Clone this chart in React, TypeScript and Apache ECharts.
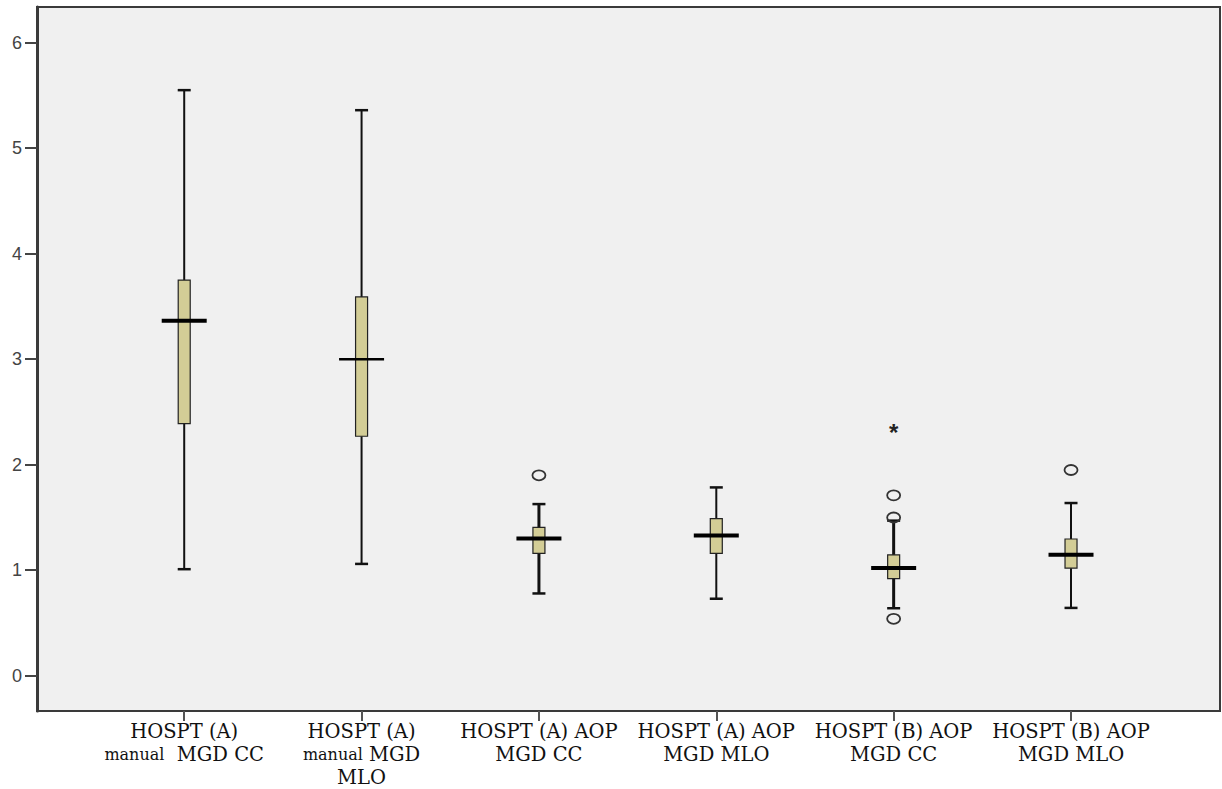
import React, { useEffect, useRef } from "react";
import * as echarts from "echarts";

const categories = [
  "HOSPT (A)\n{s|manual}  MGD CC",
  "HOSPT (A)\n{s|manual} MGD\nMLO",
  "HOSPT (A) AOP\nMGD CC",
  "HOSPT (A) AOP\nMGD MLO",
  "HOSPT (B) AOP\nMGD CC",
  "HOSPT (B) AOP\nMGD MLO",
];
const lowWhisker = [1.01, 1.06, 0.78, 0.73, 0.64, 0.643];
const q1 = [2.39, 2.27, 1.16, 1.16, 0.92, 1.02];
const median = [3.365, 3.0, 1.3, 1.33, 1.022, 1.148];
const q3 = [3.75, 3.59, 1.407, 1.49, 1.145, 1.296];
const highWhisker = [5.55, 5.36, 1.627, 1.785, 1.47, 1.637];
const outliers: [number, number][] = [
  [2, 1.9],
  [4, 1.71],
  [4, 1.5],
  [4, 0.54],
  [5, 1.95],
];
const extremes: [number, number][] = [[4, 2.34]];
const yTicks = [0, 1, 2, 3, 4, 5, 6];
const xTicks = [0, 1, 2, 3, 4, 5];

const medianWidths = [4, 2.5, 4, 4, 4, 4];
const whiskerWidths = [2, 2, 3, 2, 3, 2];

export default function App() {
  const ref = useRef<HTMLDivElement>(null);
  useEffect(() => {
    if (!ref.current) return;
    const chart = echarts.init(ref.current, undefined, { renderer: "svg" });
    const boxData = categories.map((_, i) => [
      i,
      lowWhisker[i],
      q1[i],
      median[i],
      q3[i],
      highWhisker[i],
    ]);
    const option: any = {
      animation: false,
      grid: {
        left: 37,
        top: 7,
        right: 2,
        bottom: 77,
        show: true,
        backgroundColor: "#F0F0F0",
        borderColor: "#3a3a3a",
        borderWidth: 2,
      },
      xAxis: {
        type: "value",
        min: -0.83,
        max: 5.84,
        splitLine: { show: false },
        axisLine: { show: true, onZero: false, lineStyle: { color: "#3a3a3a", width: 2 } },
        axisTick: {
          show: true,
          customValues: xTicks,
          length: 10,
          lineStyle: { color: "#555", width: 2 },
        },
        axisLabel: {
          customValues: xTicks,
          margin: 9,
          formatter: (v: number) => categories[Math.round(v)] ?? "",
          fontFamily: "DejaVu Serif",
          fontSize: 19.5,
          lineHeight: 23,
          color: "#111",
          align: "center",
          rich: {
            s: { fontFamily: "DejaVu Serif", fontSize: 16, lineHeight: 23, color: "#111" },
          },
        },
      },
      yAxis: {
        type: "value",
        min: -0.334,
        max: 6.338,
        splitLine: { show: false },
        axisLine: { show: true, onZero: false, lineStyle: { color: "#3a3a3a", width: 3 } },
        axisTick: {
          show: true,
          customValues: yTicks,
          length: 12,
          lineStyle: { color: "#444", width: 2 },
        },
        axisLabel: {
          customValues: yTicks,
          margin: 15,
          fontFamily: "Liberation Sans",
          fontSize: 18,
          color: "#444",
        },
      },
      series: [
        {
          type: "custom",
          data: boxData,
          encode: { x: 0, y: [1, 2, 3, 4, 5] },
          renderItem: (params: any, api: any) => {
            const i = api.value(0);
            const idx = params.dataIndex;
            const lo = api.coord([i, api.value(1)]);
            const b1 = api.coord([i, api.value(2)]);
            const md = api.coord([i, api.value(3)]);
            const b3 = api.coord([i, api.value(4)]);
            const hi = api.coord([i, api.value(5)]);
            const x = lo[0];
            const ww = whiskerWidths[idx];
            const line = { stroke: "#111", lineWidth: ww };
            return {
              type: "group",
              children: [
                { type: "line", shape: { x1: x, y1: hi[1], x2: x, y2: b3[1] }, style: line },
                { type: "line", shape: { x1: x, y1: b1[1], x2: x, y2: lo[1] }, style: line },
                { type: "line", shape: { x1: x - 6.5, y1: hi[1], x2: x + 6.5, y2: hi[1] }, style: { stroke: "#111", lineWidth: 2.5 } },
                { type: "line", shape: { x1: x - 6.5, y1: lo[1], x2: x + 6.5, y2: lo[1] }, style: { stroke: "#111", lineWidth: 2.5 } },
                {
                  type: "rect",
                  shape: { x: x - 6, y: b3[1], width: 12, height: b1[1] - b3[1] },
                  style: { fill: "#D3CD96", stroke: "#222", lineWidth: 1.2 },
                },
                {
                  type: "line",
                  shape: { x1: x - 22.5, y1: md[1], x2: x + 22.5, y2: md[1] },
                  style: { stroke: "#000", lineWidth: medianWidths[idx] },
                },
              ],
            };
          },
        },
        {
          type: "custom",
          data: outliers,
          encode: { x: 0, y: 1 },
          renderItem: (params: any, api: any) => {
            const p = api.coord([api.value(0), api.value(1)]);
            return {
              type: "ellipse",
              shape: { cx: p[0], cy: p[1], rx: 6.5, ry: 5 },
              style: { fill: "none", stroke: "#333", lineWidth: 1.8 },
            };
          },
        },
        {
          type: "custom",
          data: extremes,
          encode: { x: 0, y: 1 },
          renderItem: (params: any, api: any) => {
            const p = api.coord([api.value(0), api.value(1)]);
            return {
              type: "text",
              x: p[0],
              y: p[1] + 4,
              style: {
                text: "*",
                fontSize: 24,
                fontWeight: "bold",
                fontFamily: "Liberation Sans",
                fill: "#222",
                align: "center",
                verticalAlign: "middle",
              },
            };
          },
        },
      ],
    };
    chart.setOption(option);
    return () => chart.dispose();
  }, []);
  return (
    <div
      ref={ref}
      style={{ position: "absolute", left: 0, top: 0, width: 1222, height: 789 }}
    />
  );
}
